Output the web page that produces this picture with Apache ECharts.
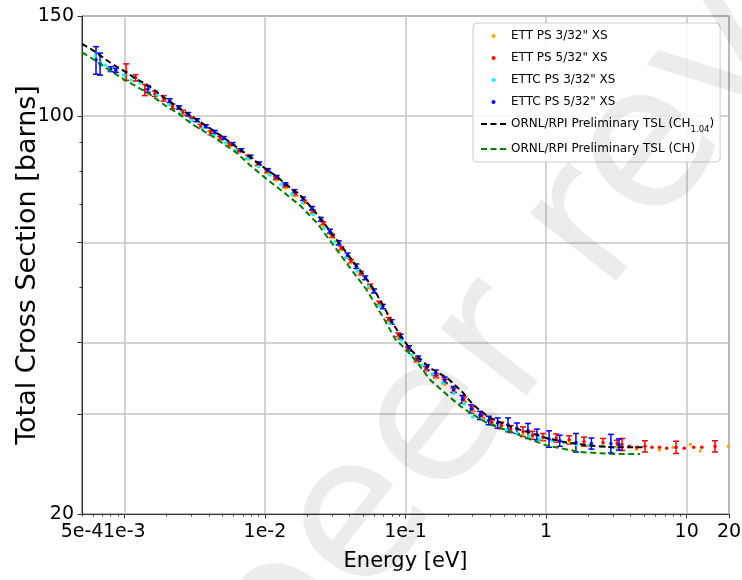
<!DOCTYPE html>
<html><head><meta charset="utf-8">
<script src="https://cdn.jsdelivr.net/npm/echarts@6/dist/echarts.min.js"></script>
<style>html,body{margin:0;padding:0;background:#fff}#c{width:742px;height:580px}</style>
</head><body><div id="c"></div>
<script>
// ---------------- data ----------------
var xTickValues = [0.001, 0.01, 0.1, 1, 10, 20];
var xTickLabels = ['1e-3', '1e-2', '1e-1', '1', '10', '20'];
var xMinorTicks = [0.0005, 0.0006, 0.0007, 0.0008, 0.0009,
  0.002, 0.003, 0.004, 0.005, 0.006, 0.007, 0.008, 0.009,
  0.02, 0.03, 0.04, 0.05, 0.06, 0.07, 0.08, 0.09,
  0.2, 0.3, 0.4, 0.5, 0.6, 0.7, 0.8, 0.9,
  2, 3, 4, 5, 6, 7, 8, 9];
var yTickValues = [20, 30, 40, 60, 100, 150];
var yLabelValues = [20, 100, 150];
var yMinorTicks = [50, 70, 80, 90];

// ETT PS 3/32" XS (orange)
var ett3E = [2.6e-3, 3.0e-3, 3.5e-3, 4.1e-3, 4.8e-3, 5.6e-3, 6.5e-3, 7.6e-3, 8.9e-3, 1.04e-2, 1.2e-2, 1.4e-2, 1.65e-2, 1.9e-2, 2.2e-2, 2.6e-2, 3.0e-2, 3.5e-2, 4.1e-2, 4.8e-2, 5.6e-2, 6.5e-2, 7.6e-2, 8.9e-2, 0.104, 0.12, 0.14, 0.165, 0.19, 0.22, 0.26, 0.30, 0.35, 0.41, 0.48, 0.56, 0.685, 0.80, 0.95, 1.18, 1.46, 1.86, 2.54, 3.2, 4.4, 6.4, 8.0, 10.6, 12.5, 19.8];
var ett3Y = [101.0, 98.2, 95.6, 93.0, 90.8, 88.6, 86.4, 84.0, 81.8, 79.5, 77.2, 74.8, 72.5, 70.3, 67.5, 64.2, 61.2, 58.2, 55.2, 52.6, 49.9, 46.6, 43.6, 40.9, 38.7, 37.0, 35.7, 34.7, 33.8, 32.7, 31.5, 30.3, 29.5, 28.8, 28.3, 28.0, 27.6, 27.3, 27.1, 26.9, 26.7, 26.5, 26.4, 26.2, 26.0, 25.9, 26.2, 26.5, 25.8, 26.3];

// ETT PS 5/32" XS (red)
var ett5E = [1.03e-3, 1.2e-3, 1.4e-3, 1.65e-3, 1.9e-3, 2.2e-3, 2.6e-3, 3.0e-3, 3.5e-3, 4.1e-3, 4.8e-3, 5.6e-3, 6.5e-3, 7.6e-3, 8.9e-3, 1.04e-2, 1.2e-2, 1.4e-2, 1.65e-2, 1.9e-2, 2.2e-2, 2.6e-2, 3.0e-2, 3.5e-2, 4.1e-2, 4.8e-2, 5.6e-2, 6.5e-2, 7.6e-2, 8.9e-2, 0.104, 0.12, 0.14, 0.165, 0.19, 0.22, 0.26, 0.30, 0.35, 0.41, 0.48, 0.56, 0.685, 0.80, 0.95, 1.18, 1.46, 1.86, 2.54, 3.2, 3.47, 3.9, 4.4, 5.05, 5.66, 6.4, 7.2, 8.39, 9.6, 11.2, 12.8, 15.9];
var ett5Y = [119.6, 116.8, 111.2, 109.5, 107.5, 104.0, 101.5, 98.8, 96.0, 93.5, 91.5, 89.2, 87.0, 84.8, 82.4, 80.0, 77.8, 75.4, 73.0, 70.8, 68.0, 64.8, 61.6, 58.6, 55.6, 53.0, 50.3, 47.0, 44.0, 41.3, 39.0, 37.3, 36.0, 35.0, 34.2, 33.0, 31.8, 30.6, 29.8, 29.0, 28.6, 28.2, 27.9, 27.5, 27.3, 27.2, 27.0, 26.8, 26.7, 26.6, 26.5, 26.3, 26.2, 26.3, 26.2, 26.2, 26.1, 26.2, 26.1, 26.2, 26.2, 26.3];
var ett5Err = [4.0, 1.5, 2.5, 1.2, 1.2, 1.0, 1.0, 0.8, 0.8, 0.7, 0.7, 0.6, 0.6, 0.6, 0.5, 0.5, 0.5, 0.5, 0.5, 0.4, 0.4, 0.4, 0.4, 0.4, 0.4, 0.4, 0.4, 0.3, 0.3, 0.3, 0.3, 0.3, 0.3, 0.3, 0.3, 0.3, 0.3, 0.3, 0.3, 0.3, 0.4, 0.4, 0.55, 0.45, 0.4, 0.45, 0.45, 0.5, 0.45, 0.35, 0.65, 0, 0, 0.6, 0, 0, 0, 0.65, 0, 0, 0, 0.6];

// ETTC PS 3/32" XS (cyan)
var ettc3E = [6.2e-4, 6.8e-4, 7.3e-4, 7.9e-4, 9.9e-4, 1.12e-3, 1.29e-3, 1.49e-3, 1.71e-3, 2.08e-3, 2.5e-3, 3.0e-3, 3.6e-3, 4.3e-3, 5.2e-3, 6.2e-3, 7.5e-3, 9.0e-3, 1.08e-2, 1.3e-2, 1.55e-2, 1.85e-2, 2.2e-2, 2.65e-2, 3.15e-2, 3.8e-2, 4.55e-2, 5.45e-2, 6.5e-2, 7.8e-2, 9.3e-2, 0.11, 0.13, 0.155, 0.185, 0.22, 0.26, 0.30, 0.36, 0.43, 0.52, 0.62, 0.75, 0.9, 1.1, 1.35, 1.65, 2.0, 2.5, 3.0];
var ettc3Y = [127.6, 124.1, 123.0, 120.6, 118.2, 115.8, 114.4, 111.6, 109.0, 104.7, 101.3, 98.3, 95.2, 92.6, 89.8, 87.2, 84.3, 81.5, 78.8, 75.9, 73.0, 70.4, 67.2, 63.6, 60.2, 56.4, 53.4, 50.2, 46.4, 43.2, 40.4, 38.1, 36.5, 35.2, 34.0, 32.6, 31.2, 29.6, 29.2, 28.6, 28.1, 27.7, 27.4, 27.1, 26.9, 26.7, 26.5, 26.4, 26.3, 26.2];

// ETTC PS 5/32" XS (blue)
var ettc5E = [6.29e-4, 6.72e-4, 8.0e-4, 8.7e-4, 1.47e-3, 2.1e-3, 2.45e-3, 2.85e-3, 3.3e-3, 3.8e-3, 4.4e-3, 5.1e-3, 5.9e-3, 6.8e-3, 7.9e-3, 9.1e-3, 1.05e-2, 1.21e-2, 1.4e-2, 1.62e-2, 1.87e-2, 2.16e-2, 2.5e-2, 2.9e-2, 3.35e-2, 3.87e-2, 4.47e-2, 5.17e-2, 5.97e-2, 6.9e-2, 7.97e-2, 9.2e-2, 0.106, 0.123, 0.142, 0.164, 0.19, 0.22, 0.254, 0.293, 0.339, 0.391, 0.452, 0.536, 0.62, 0.743, 0.86, 1.05, 1.25, 1.63, 2.1, 2.89, 3.3];
var ettc5Y = [125.5, 123.6, 121.0, 120.4, 111.6, 106.5, 103.6, 100.8, 98.4, 96.0, 93.8, 91.6, 89.4, 87.2, 84.9, 82.6, 80.4, 78.2, 75.9, 73.8, 71.6, 68.9, 65.9, 62.8, 59.9, 57.0, 54.5, 52.0, 49.3, 46.3, 43.5, 41.0, 39.1, 37.5, 36.2, 35.4, 34.4, 33.1, 31.8, 30.6, 29.8, 29.2, 28.9, 28.7, 28.3, 28.0, 27.6, 27.1, 26.9, 26.7, 26.6, 26.6, 26.5];
var ettc5Err = [7.0, 5.5, 1.2, 1.0, 1.5, 0.8, 0.7, 0.7, 0.6, 0.6, 0.6, 0.5, 0.5, 0.5, 0.5, 0.5, 0.5, 0.5, 0.5, 0.5, 0.5, 0.5, 0.5, 0.5, 0.5, 0.5, 0.5, 0.4, 0.4, 0.4, 0.4, 0.4, 0.4, 0.4, 0.4, 0.4, 0.4, 0.4, 0.5, 0.5, 0.5, 0.5, 0.6, 0.8, 0.6, 0.85, 0.6, 0.9, 0.6, 1.0, 0.6, 1.0, 0.6];

// ORNL/RPI Preliminary TSL (CH1.04) (black dashed)
var tslCH104E = [5e-4, 6e-4, 7e-4, 8e-4, 1e-3, 1.2e-3, 1.5e-3, 2e-3, 2.5e-3, 3e-3, 4e-3, 5e-3, 6e-3, 7e-3, 8e-3, 1e-2, 1.2e-2, 1.5e-2, 1.8e-2, 2.1e-2, 2.5e-2, 3e-2, 3.5e-2, 4e-2, 4.5e-2, 5e-2, 6e-2, 7e-2, 8e-2, 9e-2, 0.1, 0.11, 0.125, 0.15, 0.175, 0.2, 0.25, 0.3, 0.35, 0.4, 0.5, 0.6, 0.8, 1.0, 1.4, 2.0, 3.0, 4.0, 4.9];
var tslCH104Y = [134, 130.5, 127, 124, 120, 116.5, 113, 107, 103, 100, 95.5, 92, 89, 86.5, 84.5, 81, 78.5, 75, 72.5, 69.5, 66, 62.2, 59.2, 56.6, 54.5, 52.8, 49.5, 46.3, 43.5, 41.6, 40, 38.8, 37.6, 36.1, 35.3, 34.6, 32.9, 31.2, 30.2, 29.5, 28.8, 28.3, 27.7, 27.2, 26.7, 26.4, 26.2, 26.2, 26.2];

// ORNL/RPI Preliminary TSL (CH) (green dashed)
var tslCHE = [5e-4, 6e-4, 8e-4, 1e-3, 1.5e-3, 2e-3, 2.4e-3, 3e-3, 4.3e-3, 6.3e-3, 7.8e-3, 1e-2, 1.35e-2, 1.8e-2, 2.35e-2, 3.05e-2, 4e-2, 5.3e-2, 6.9e-2, 8.5e-2, 0.1, 0.12, 0.15, 0.2, 0.26, 0.38, 0.58, 1.0, 1.74, 3.0, 4.65];
var tslCHY = [129.5, 126, 120, 116, 109.5, 104, 101.3, 97, 92, 86.2, 82.1, 78, 73.6, 69.5, 64.9, 59.5, 54.3, 49.5, 44.4, 40.5, 39.0, 37.0, 34.4, 32.3, 30.6, 28.9, 27.8, 26.4, 25.7, 25.5, 25.5];

var names = ['ETT PS 3/32" XS', 'ETT PS 5/32" XS', 'ETTC PS 3/32" XS', 'ETTC PS 5/32" XS',
  'ORNL/RPI Preliminary TSL (CH1.04)', 'ORNL/RPI Preliminary TSL (CH)'];
var colors = ['#FFA500', '#FF0000', '#00FFFF', '#0000FF', '#000000', '#008000'];

// ---------------- helpers ----------------
function zip(xs, ys) { return xs.map(function (x, i) { return [x, ys[i]]; }); }
function zip3(xs, ys, es) { return xs.map(function (x, i) { return [x, ys[i], es[i]]; }); }
function errRender(color) {
  return function (params, api) {
    var x = api.value(0), y = api.value(1), e = api.value(2);
    if (!e) return null;
    var lo = api.coord([x, y - e]), hi = api.coord([x, y + e]);
    var h = 3;
    var st = { stroke: color, lineWidth: 1.5 };
    return { type: 'group', children: [
      { type: 'line', shape: { x1: lo[0], y1: lo[1], x2: hi[0], y2: hi[1] }, style: st },
      { type: 'line', shape: { x1: lo[0] - h, y1: lo[1], x2: lo[0] + h, y2: lo[1] }, style: st },
      { type: 'line', shape: { x1: hi[0] - h, y1: hi[1], x2: hi[0] + h, y2: hi[1] }, style: st }
    ] };
  };
}
function scatter(i, xs, ys) {
  return { name: names[i], type: 'scatter', data: zip(xs, ys), symbol: 'circle', symbolSize: 3.5,
    itemStyle: { color: colors[i], opacity: 1 }, z: 2 };
}
function errSeries(i, xs, ys, es) {
  return { name: names[i] + ' err', type: 'custom', data: zip3(xs, ys, es), renderItem: errRender(colors[i]),
    encode: { x: 0, y: 1 }, z: 2 };
}
function tsl(i, xs, ys) {
  return { name: names[i], type: 'line', data: zip(xs, ys), symbol: 'none', showSymbol: false,
    lineStyle: { color: colors[i], width: 2, type: [6, 3.5] }, itemStyle: { color: colors[i] }, z: 3 };
}
var font = 'DejaVu Sans';
var axisColor = '#333';

var chart = echarts.init(document.getElementById('c'), null, { renderer: 'canvas' });
chart.setOption({
  animation: false,
  backgroundColor: '#fff',
  grid: { left: 82, right: 13, top: 16, bottom: 66, show: true, borderColor: axisColor, borderWidth: 1,
    containLabel: false, outerBoundsMode: 'none' },
  xAxis: [{
    type: 'log', logBase: 10, min: 0.0005, max: 20, position: 'bottom',
    name: 'Energy [eV]', nameLocation: 'middle', nameGap: 37, nameMoveOverlap: false,
    nameTextStyle: { fontFamily: font, fontSize: 21, color: '#000' },
    axisLine: { show: true, lineStyle: { color: axisColor, width: 1 } },
    axisTick: { show: true, customValues: xTickValues, length: 4.5, lineStyle: { color: axisColor, width: 1 } },
    axisLabel: { show: true, customValues: xTickValues, margin: 9, fontFamily: font, fontSize: 19, color: '#000',
      showMinLabel: true, showMaxLabel: true,
      formatter: function (v) {
        for (var i = 0; i < xTickValues.length; i++) { if (Math.abs(v / xTickValues[i] - 1) < 1e-6) return xTickLabels[i]; }
        return '';
      } },
    splitLine: { show: true, lineStyle: { color: '#c4c4c4', width: 1.5 } }
  }, {
    type: 'log', logBase: 10, min: 0.0005, max: 20, position: 'bottom', gridIndex: 0,
    axisLine: { show: false },
    axisTick: { show: true, customValues: xMinorTicks, length: 2.5, lineStyle: { color: axisColor, width: 1 } },
    axisLabel: { show: true, customValues: [0.0005], margin: 9, fontFamily: font, fontSize: 19, color: '#000',
      showMinLabel: true, showMaxLabel: true, formatter: function () { return '5e-4'; } },
    splitLine: { show: false }
  }],
  yAxis: [{
    type: 'log', logBase: 10, min: 20, max: 150, position: 'left',
    name: 'Total Cross Section [barns]', nameLocation: 'middle', nameGap: 41, nameRotate: 90, nameMoveOverlap: false,
    nameTextStyle: { fontFamily: font, fontSize: 27, color: '#000' },
    axisLine: { show: true, lineStyle: { color: axisColor, width: 1 } },
    axisTick: { show: true, customValues: yTickValues, length: 4.5, lineStyle: { color: axisColor, width: 1 } },
    axisLabel: { show: true, customValues: yLabelValues, margin: 8, fontFamily: font, fontSize: 19, color: '#000',
      showMinLabel: true, showMaxLabel: true, formatter: function (v) { return String(Math.round(v)); } },
    splitLine: { show: true, lineStyle: { color: '#c4c4c4', width: 1.5 } }
  }, {
    type: 'log', logBase: 10, min: 20, max: 150, position: 'left', gridIndex: 0,
    axisLine: { show: false },
    axisTick: { show: true, customValues: yMinorTicks, length: 2.5, lineStyle: { color: axisColor, width: 1 } },
    axisLabel: { show: false },
    splitLine: { show: false }
  }],
  legend: {
    orient: 'vertical', left: 473, top: 23, itemWidth: 25, itemHeight: 4, itemGap: 8,
    padding: [6, 6, 6, 7], backgroundColor: 'rgba(255,255,255,0.85)', borderColor: '#cccccc', borderWidth: 1,
    borderRadius: 4, selectedMode: false, symbolKeepAspect: true,
    textStyle: { fontFamily: font, fontSize: 12, color: '#000', lineHeight: 14,
      rich: { sub: { fontFamily: font, fontSize: 8.5, verticalAlign: 'bottom', lineHeight: 14, padding: [0, 0, -3, 0] } } },
    formatter: function (n) {
      if (n === names[4]) return 'ORNL/RPI Preliminary TSL (CH{sub|1.04})';
      return n;
    },
    data: [
      { name: names[0], icon: 'circle' },
      { name: names[1], icon: 'circle' },
      { name: names[2], icon: 'circle' },
      { name: names[3], icon: 'circle' },
      { name: names[4], itemStyle: { opacity: 0 } },
      { name: names[5], itemStyle: { opacity: 0 } }
    ]
  },
  graphic: [{
    type: 'text', x: 245, y: 672, rotation: 52 * Math.PI / 180, z: 100, silent: true,
    style: { text: 'peer review', fontFamily: font, fontSize: 200, fill: 'rgba(0,0,0,0.075)',
      textAlign: 'left', textVerticalAlign: 'middle' }
  }],
  series: [
    scatter(0, ett3E, ett3Y),
    scatter(1, ett5E, ett5Y),
    errSeries(1, ett5E, ett5Y, ett5Err),
    scatter(2, ettc3E, ettc3Y),
    scatter(3, ettc5E, ettc5Y),
    errSeries(3, ettc5E, ettc5Y, ettc5Err),
    tsl(4, tslCH104E, tslCH104Y),
    tsl(5, tslCHE, tslCHY)
  ]
});
</script></body></html>
